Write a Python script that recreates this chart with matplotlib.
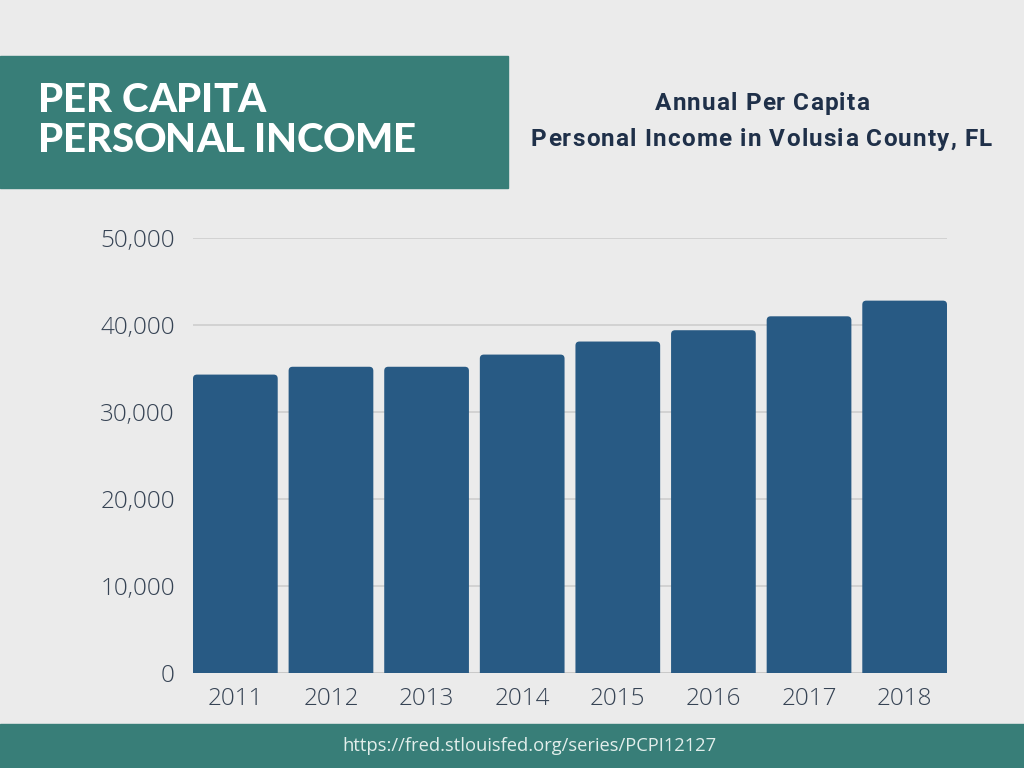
import matplotlib
matplotlib.use("Agg")
import matplotlib.pyplot as plt
from matplotlib.patches import FancyBboxPatch, Rectangle

# data
years = ["2011", "2012", "2013", "2014", "2015", "2016", "2017", "2018"]
income = [34300, 35200, 35200, 36600, 38100, 39400, 41000, 42800]
y_ticks = [0, 10000, 20000, 30000, 40000, 50000]

bg = "#ebebeb"
teal = "#387e78"
bar_col = "#285a84"
navy = "#1f3049"
tick_col = "#364354"

plt.rcParams['font.family'] = ['Open Sans', 'DejaVu Sans']

W, H = 1024, 768
fig = plt.figure(figsize=(W / 100, H / 100), dpi=100, facecolor=bg)
renderer = fig.canvas.get_renderer()


def text_w(s, **kw):
    t = fig.text(0, 0, s, **kw)
    w = t.get_window_extent(renderer).width
    t.remove()
    return w


def spaced_text(x_left, y_top_px, s, target_w, **kw):
    # lay the string out char by char, stretching letter spacing to fill target_w
    bar_w = text_w("|", **kw)
    pos = [text_w(s[:i] + "|", **kw) - bar_w for i in range(len(s))]
    natural = text_w(s, **kw)
    gap = (target_w - natural) / (len(s) - 1)
    for i, ch in enumerate(s):
        if ch == " ":
            continue
        fig.text((x_left + pos[i] + i * gap) / W, 1 - y_top_px / H, ch,
                 ha="left", va="baseline", **kw)


# header box and footer band
fig.patches.append(Rectangle((0, 1 - 188 / H), 508 / W, 132 / H,
                             transform=fig.transFigure, color=teal, zorder=0))
fig.patches.append(Rectangle((0, 0), 1, 44 / H,
                             transform=fig.transFigure, color=teal, zorder=0))

head_kw = dict(color="white", fontsize=29, fontweight="black", family=["Lato", "DejaVu Sans"])
spaced_text(38, 111.5, "PER CAPITA", 228, **head_kw)
spaced_text(38, 151.5, "PERSONAL INCOME", 378, **head_kw)

sub_kw = dict(color=navy, fontsize=17.5, fontweight="bold", family=["Roboto", "DejaVu Sans"])
spaced_text(655, 110, "Annual Per Capita", 214, **sub_kw)
spaced_text(531, 146, "Personal Income in Volusia County, FL", 461, **sub_kw)

fig.text(529 / W, 1 - 746 / H, "https://fred.stlouisfed.org/series/PCPI12127",
         color="#e2eeeb", fontsize=13.2, ha="center", va="center")

ax = fig.add_axes([193 / W, 95 / H, 754 / W, 435 / H])
ax.set_facecolor(bg)

w = 0.886
x = list(range(len(years)))
bars = ax.bar(x, income, width=w, color=bar_col)

# swap plain bars for ones with slightly rounded tops
px_per_x = 754 / (len(years) - 1 + w)
px_per_y = 435 / 50000
for b in bars:
    bx, by = b.get_x(), b.get_y()
    bw, bh = b.get_width(), b.get_height()
    b.set_visible(False)
    r = 4 / px_per_x
    p = FancyBboxPatch((bx, by - 2000), bw, bh + 2000,
                       boxstyle=f"round,pad=0,rounding_size={r}",
                       mutation_aspect=px_per_x / px_per_y,
                       facecolor=bar_col, edgecolor="none", zorder=3)
    ax.add_patch(p)

ax.set_xlim(-w / 2, len(years) - 1 + w / 2)
ax.set_ylim(0, 50000)
ax.set_xticks(x)
ax.set_xticklabels(years)
ax.set_yticks(y_ticks)
ax.set_yticklabels([f"{v:,}" for v in y_ticks])
ax.tick_params(axis="both", length=0, labelsize=17.5, labelcolor=tick_col)
for lab in ax.get_xticklabels() + ax.get_yticklabels():
    lab.set_fontweight("light")
ax.tick_params(axis="y", pad=13)
ax.tick_params(axis="x", pad=10)
ax.grid(axis="y", color="#d2d2d2", linewidth=1.4, zorder=0)
ax.set_axisbelow(True)
for s in ax.spines.values():
    s.set_visible(False)
ax.axhline(0, color="#c8c8c8", linewidth=1.2, zorder=2)

fig.savefig("out.png", dpi=100, facecolor=bg)
